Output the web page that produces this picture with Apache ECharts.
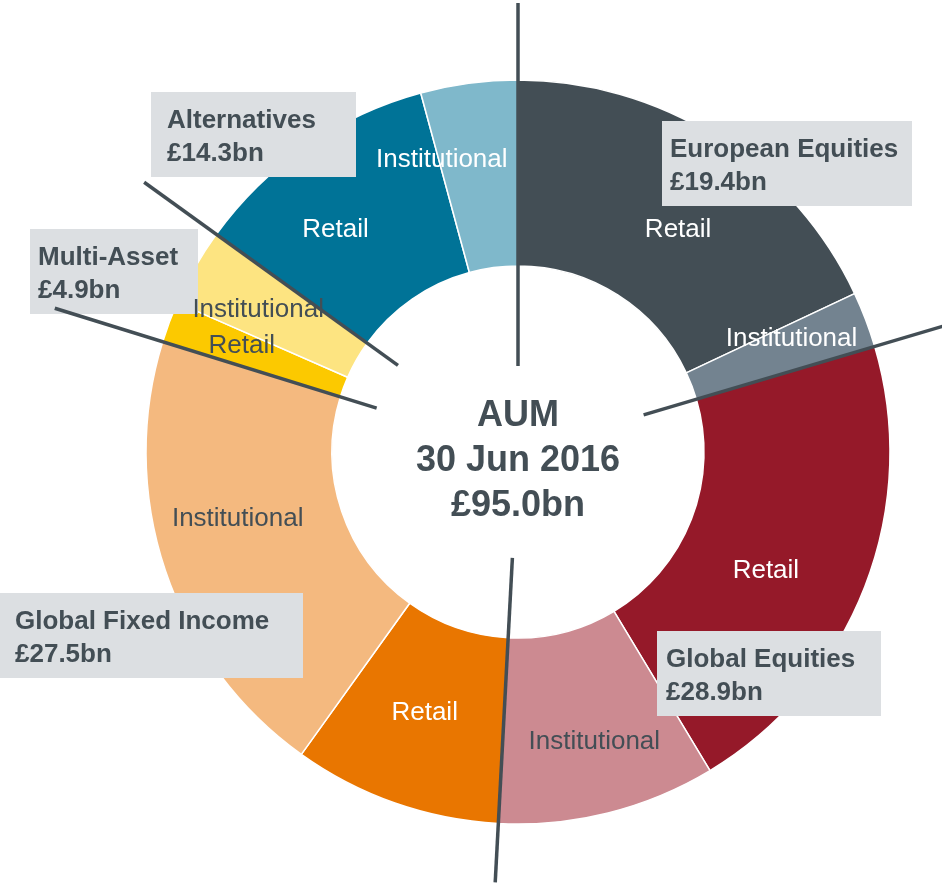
<!DOCTYPE html>
<html>
<head>
<meta charset="utf-8">
<script src="https://cdn.jsdelivr.net/npm/echarts@6/dist/echarts.min.js"></script>
<style>
html, body { margin: 0; padding: 0; background: #fff; }
#chart { width: 942px; height: 887px; }
</style>
</head>
<body>
<div id="chart"></div>
<script>
// AUM by asset class, £bn, split Retail / Institutional
const categories = ['European Equities', 'Global Equities', 'Global Fixed Income', 'Multi-Asset', 'Alternatives'];
const retail = [17.1, 19.9, 8.6, 1.7, 10.3];
const institutional = [2.3, 9.0, 18.9, 3.2, 4.0];
const centerLines = ['AUM', '30 Jun 2016', '£95.0bn'];

const FONT = '"Liberation Sans", Arial, sans-serif';
const INK = '#434e55';

const colors = [
	['#434e55', '#738390'],
	['#951929', '#cc8a91'],
	['#e97600', '#f4b97f'],
	['#fcc900', '#fde481'],
	['#007397', '#7fb8cb']
];
// label colour on each slice (retail, institutional)
const labelInk = [
	['#fff', '#fff'],
	['#fff', INK],
	['#fff', INK],
	[INK, INK],
	['#fff', '#fff']
];
// small nudges so labels sit where the original put them
const nudge = [
	[9, 16], [10, -13],
	[-15, 17], [8, 16],
	[0, -5], [-13, -23],
	[-12, -8], [-15, -2],
	[-22, 10], [-39, -13]
];
// label boxes: left, top, width, height
const boxes = [
	[662, 121, 250, 85],
	[657, 631, 224, 85],
	[0, 593, 303, 85],
	[30, 229, 168, 85],
	[151, 92, 205, 85]
];
const boxPadX = [8, 9, 15, 8, 16];
// separator lines: inner / outer radius (px) at each category start
const sepRadii = [[86, 449], [131, 450], [106, 431], [148, 485], [148, 461]];

const cx = 518, cy = 452;
const total = retail.reduce((a, b) => a + b, 0) + institutional.reduce((a, b) => a + b, 0);

const slices = [];
const labelSlices = [];
categories.forEach((c, i) => {
	slices.push({ name: 'Retail', value: retail[i], itemStyle: { color: colors[i][0] } });
	slices.push({ name: 'Institutional', value: institutional[i], itemStyle: { color: colors[i][1] } });
	labelSlices.push({ name: 'Retail', value: retail[i], label: { color: labelInk[i][0] } });
	labelSlices.push({ name: 'Institutional', value: institutional[i], label: { color: labelInk[i][1] } });
});

let cum = 0;
const sepSeries = categories.map((c, i) => {
	const at = cum;
	cum += retail[i] + institutional[i];
	return {
		type: 'line',
		coordinateSystem: 'polar',
		data: [[sepRadii[i][0], at], [sepRadii[i][1], at]],
		symbol: 'none',
		silent: true,
		clip: false,
		z: 20,
		lineStyle: { color: INK, width: 3.5 }
	};
});

const boxGraphics = [];
categories.forEach((c, i) => {
	const amount = (retail[i] + institutional[i]).toFixed(1);
	const b = boxes[i];
	boxGraphics.push({
		type: 'rect', z: 10,
		shape: { x: b[0], y: b[1], width: b[2], height: b[3] },
		style: { fill: '#dcdfe2' }
	});
	boxGraphics.push({
		type: 'text', z: 11,
		x: b[0] + boxPadX[i], y: b[1] + 12,
		style: {
			text: c + '\n£' + amount + 'bn',
			font: 'bold 26px ' + FONT,
			fill: INK,
			lineHeight: 33
		}
	});
});

const pieBase = {
	type: 'pie',
	center: [cx, cy],
	radius: [186, 372],
	startAngle: 90,
	clockwise: true,
	avoidLabelOverlap: false,
	silent: true
};

const chart = echarts.init(document.getElementById('chart'));
chart.setOption({
	animation: false,
	polar: { center: [cx, cy], radius: 500 },
	angleAxis: { type: 'value', min: 0, max: total, startAngle: 90, clockwise: true, show: false },
	radiusAxis: { type: 'value', min: 0, max: 500, show: false },
	graphic: [
		...boxGraphics,
		{
			type: 'text', x: cx, y: 461, z: 10,
			style: {
				text: centerLines.join('\n'),
				font: 'bold 36px ' + FONT,
				fill: INK,
				lineHeight: 45,
				align: 'center',
				verticalAlign: 'middle'
			}
		}
	],
	series: [
		Object.assign({}, pieBase, {
			z: 2,
			itemStyle: { borderColor: '#fff', borderWidth: 1.5 },
			label: { show: false },
			labelLine: { show: false },
			data: slices
		}),
		// same slices again, invisible, only to carry the labels above the boxes
		Object.assign({}, pieBase, {
			z: 15,
			itemStyle: { color: 'rgba(0,0,0,0)', borderWidth: 0 },
			label: {
				show: true,
				position: 'inside',
				formatter: '{b}',
				fontFamily: FONT,
				fontSize: 26
			},
			labelLine: { show: false },
			labelLayout: function (p) {
				return { dx: nudge[p.dataIndex][0], dy: nudge[p.dataIndex][1] };
			},
			data: labelSlices
		}),
		...sepSeries
	]
});
</script>
</body>
</html>
